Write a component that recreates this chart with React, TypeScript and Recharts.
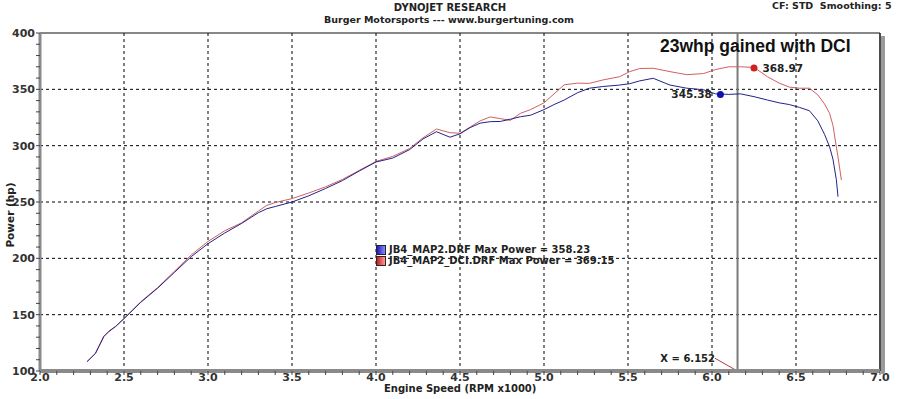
import React from 'react';
import {
  LineChart, Line, XAxis, YAxis, CartesianGrid, ReferenceLine, ReferenceDot,
} from 'recharts';

// engine speed (RPM x1000) sample points
const rpm = [
  2.28, 2.33, 2.38, 2.41, 2.45, 2.5, 2.6, 2.7, 2.8, 2.9, 3.0, 3.1, 3.2, 3.3, 3.35, 3.4,
  3.5, 3.6, 3.7, 3.8, 3.9, 4.0, 4.1, 4.2, 4.28, 4.36, 4.44, 4.5, 4.56, 4.62, 4.68, 4.74,
  4.8, 4.86, 4.92, 5.0, 5.06, 5.12, 5.2, 5.27, 5.35, 5.45, 5.51, 5.57, 5.65, 5.75, 5.85,
  5.95, 6.02, 6.1, 6.17, 6.25, 6.33, 6.4, 6.46, 6.52, 6.58, 6.63, 6.67, 6.7, 6.72, 6.74,
  6.75, 6.77,
];

// JB4_MAP2.DRF (blue)
const map2Hp = [
  108.3, 115.7, 130.5, 135, 139.5, 146.5, 161, 173.5, 187.5, 201.5, 213, 222.5, 231, 240.5, 244, 246,
  250, 255.5, 262, 269, 277.5, 285.5, 289, 296.5, 306, 312.4, 307.5, 310.5, 316, 320, 321.3, 321.5,
  323.5, 325.7, 327, 332, 336.5, 340.5, 347, 351, 352.5, 353.8, 355, 357.5, 359.8, 353.8, 351,
  349.6, 346, 345.5, 346, 343.5, 340.5, 338, 336.5, 334, 331, 322, 310, 299, 288, 270,
  254.7, null,
];

// JB4_MAP2_DCI.DRF (red)
const dciHp = [
  108.3, 115.5, 131, 135.5, 139.5, 146.5, 161.5, 174, 188.5, 203, 215, 224.5, 231.5, 242, 247, 249.5,
  253, 258, 263.5, 270, 278, 286, 290.5, 297.5, 307, 314.8, 311.5, 311, 316.5, 322, 325.5, 324,
  322.5, 328.7, 332, 338, 346, 354, 355.5, 355.3, 358.3, 361.2, 365.7, 368.5, 368.7, 365.7, 363,
  364, 367.5, 370, 370, 369.5, 361.2, 355.5, 352, 351, 351, 345, 337, 328.7, 318, 299,
  290, 269.5,
];

const majorX = [2.5, 3.0, 3.5, 4.0, 4.5, 5.0, 5.5, 6.0, 6.5];
const majorY = [150, 200, 250, 300, 350];
const xTicks = Array.from({ length: 51 }, (_, i) => Math.round((2 + i * 0.1) * 10) / 10);
const yTicks = Array.from({ length: 31 }, (_, i) => 100 + i * 10);

const cursorX = 6.152;
const peakDci = { x: 6.25, y: 368.97 };
const peakMap2 = { x: 6.05, y: 345.38 };
// little red leader from the "X = " readout down to the cursor
const leader = [
  { rpm: 6.018, lead: 111.3 },
  { rpm: 6.137, lead: 101.2 },
];

const data = rpm.map((r, i) => ({ rpm: r, map2: map2Hp[i], dci: dciHp[i] }));

const BLUE = '#22228a';
const RED = '#d06060';
const font = '"DejaVu Sans", Verdana, sans-serif';

const isMajor = (v: number, step: number) => Math.abs(v / step - Math.round(v / step)) < 1e-6;

const App: React.FC = () => {
  return (
    <div style={{ position: 'absolute', left: 0, top: 0, width: 900, height: 399, background: '#fff', fontFamily: font }}>
      <div style={{ position: 'absolute', left: 0, width: 900, top: 2, textAlign: 'center', fontSize: 10, fontWeight: 'bold', color: '#222' }}>
        DYNOJET RESEARCH
      </div>
      <div style={{ position: 'absolute', left: 0, width: 898, top: 14, textAlign: 'center', fontSize: 9.5, fontWeight: 'bold', color: '#222' }}>
        Burger Motorsports --- www.burgertuning.com
      </div>
      <div style={{ position: 'absolute', left: 772, top: 0, fontSize: 9.5, fontWeight: 'bold', color: '#222', whiteSpace: 'pre' }}>
        CF: STD  Smoothing: 5
      </div>

      <LineChart width={900} height={399} data={data} margin={{ top: 33, right: 20, left: 0, bottom: 0 }}>
        <CartesianGrid
          stroke="#000"
          strokeDasharray="3 3"
          verticalValues={majorX}
          horizontalValues={majorY}
        />
        <XAxis
          dataKey="rpm"
          type="number"
          domain={[2, 7]}
          ticks={xTicks}
          interval={0}
          height={28}
          tickFormatter={(v: number) => (isMajor(v, 0.5) ? v.toFixed(1) : '')}
          tick={{ fontSize: 11, fontWeight: 'bold', fill: '#333', fontFamily: font, dy: -3 }}
          tickSize={4}
          tickMargin={1}
          tickLine={{ stroke: '#444' }}
          axisLine={{ stroke: '#8a8a8a', strokeWidth: 4 }}
          allowDataOverflow
        />
        <YAxis
          type="number"
          domain={[100, 400]}
          ticks={yTicks}
          interval={0}
          width={40}
          tickFormatter={(v: number) => (isMajor(v, 50) ? String(v) : '')}
          tick={{ fontSize: 11, fontWeight: 'bold', fill: '#333', fontFamily: font }}
          tickSize={4}
          tickMargin={1}
          tickLine={{ stroke: '#444' }}
          axisLine={{ stroke: '#8a8a8a', strokeWidth: 3 }}
          allowDataOverflow
        />
        <ReferenceLine y={400} stroke="#111" strokeWidth={1} />
        <ReferenceLine x={7} stroke="#111" strokeWidth={1.5} />
        <ReferenceLine x={cursorX} stroke="#7a7a7a" strokeWidth={2} />

        <Line dataKey="dci" stroke={RED} strokeWidth={1} dot={false} isAnimationActive={false} />
        <Line dataKey="map2" stroke={BLUE} strokeWidth={1} dot={false} isAnimationActive={false} />
        <Line
          data={leader}
          dataKey="lead"
          stroke="#b04040"
          strokeWidth={1}
          dot={false}
          isAnimationActive={false}
        />

        <ReferenceDot
          x={peakDci.x}
          y={peakDci.y}
          r={3.5}
          fill="#d02020"
          stroke="none"
          label={{ value: peakDci.y.toFixed(2), position: 'right', offset: 5, fontSize: 10.5, fontWeight: 'bold', fill: '#222', fontFamily: font }}
        />
        <ReferenceDot
          x={peakMap2.x}
          y={peakMap2.y}
          r={3.5}
          fill="#1010b0"
          stroke="none"
          label={{ value: peakMap2.y.toFixed(2), position: 'left', offset: 5, fontSize: 10.5, fontWeight: 'bold', fill: '#222', fontFamily: font }}
        />
        <ReferenceDot
          x={leader[0].rpm}
          y={leader[0].lead}
          r={0}
          fill="none"
          stroke="none"
          label={{ value: `X = ${cursorX}`, position: 'left', offset: 0, fontSize: 10, fontWeight: 'bold', fill: '#222', fontFamily: font }}
        />
      </LineChart>

      {/* frame shadow on the right */}
      <div style={{ position: 'absolute', left: 881, top: 36, width: 4, height: 338, background: '#9a9a9a' }} />

      <div style={{ position: 'absolute', left: 660, top: 36, fontSize: 17.5, fontWeight: 'bold', fontFamily: '"Liberation Sans", Arial, sans-serif', color: '#111' }}>
        23whp gained with DCI
      </div>

      <div style={{ position: 'absolute', left: 376, top: 244, fontSize: 10, fontWeight: 'bold', color: '#222', lineHeight: '11px' }}>
        <div style={{ display: 'flex', alignItems: 'center' }}>
          <span style={{ width: 8, height: 8, border: '1px solid #223', background: 'linear-gradient(90deg,#1a1ab0,#8a8aff)', marginRight: 3 }} />
          JB4_MAP2.DRF Max Power = 358.23
        </div>
        <div style={{ display: 'flex', alignItems: 'center' }}>
          <span style={{ width: 8, height: 8, border: '1px solid #322', background: 'linear-gradient(90deg,#c02020,#ff9a9a)', marginRight: 3 }} />
          JB4_MAP2_DCI.DRF Max Power = 369.15
        </div>
      </div>

      <div style={{ position: 'absolute', left: 0, width: 20, top: 215, height: 0 }}>
        <div style={{ position: 'absolute', left: 10, top: 0, transform: 'translate(-50%,-50%) rotate(-90deg)', fontSize: 10.5, fontWeight: 'bold', color: '#222', whiteSpace: 'nowrap' }}>
          Power (hp)
        </div>
      </div>
      <div style={{ position: 'absolute', left: 384, top: 383, fontSize: 10, fontWeight: 'bold', color: '#222', whiteSpace: 'nowrap' }}>
        Engine Speed (RPM x1000)
      </div>
    </div>
  );
};

export default App;
